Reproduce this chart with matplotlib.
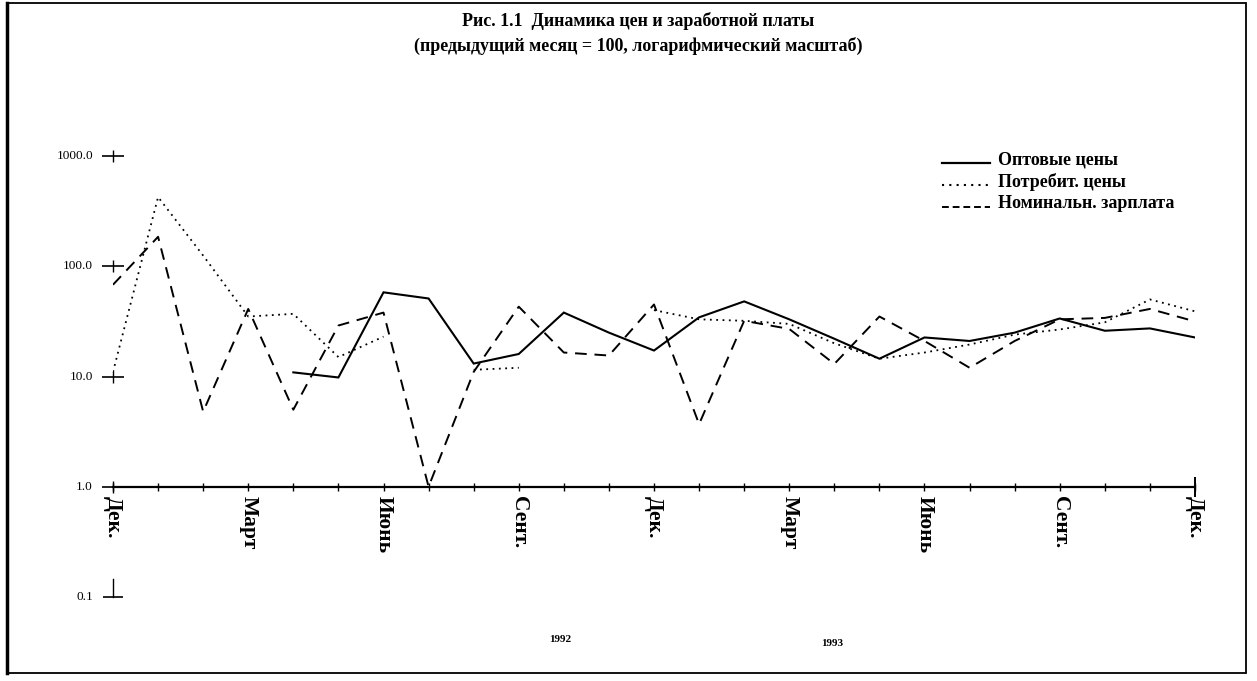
import numpy as np
import matplotlib
matplotlib.use("Agg")
import matplotlib.pyplot as plt
from matplotlib.lines import Line2D
from matplotlib.patches import Rectangle

nan = np.nan
# month index 0 = Dec 1991 ... 24 = Dec 1993
months = list(range(25))
wholesale = [nan, nan, nan, nan, 10.9, 9.8, 58, 51, 13.1, 16, 38, 25, 17.2,
             34.4, 48, 33, 22, 14.5, 22.6, 21, 25, 33.6, 26, 27.3, 22.6]
consumer = [11, 424, 125, 35, 37, 15, 23, nan, 11.5, 12, nan, nan, 40,
            33, 32, 30, 20, 14.5, 16.5, 19.5, 24, 26.7, 31, 50, 39]
wages = [68, 185, 4.8, 41, 5.0, 29, 38, 1.0, 11, 43, 16.5, 15.5, 45,
         3.7, 32, 27, 13, 35, 21, 12, 21, 33, 34, 41, 31.6]

tick_pos = [0, 3, 6, 9, 12, 15, 18, 21, 24]
tick_labels = ["Дек.", "Март", "Июнь", "Сент.", "Дек.", "Март", "Июнь", "Сент.", "Дек."]
y_ticks = [1000, 100, 10, 1, 0.1]
y_labels = ["1000.0", "100.0", "10.0", "1.0", "0.1"]
legend_labels = ["Оптовые цены", "Потребит. цены", "Номинальн. зарплата"]
title1 = "Рис. 1.1  Динамика цен и заработной платы"
title2 = "(предыдущий месяц = 100, логарифмический масштаб)"
years = ["1992", "1993"]

SERIF = ["Liberation Serif", "DejaVu Serif"]
W, H = 1257, 681
fig = plt.figure(figsize=(W / 100, H / 100), dpi=100)
fig.patch.set_facecolor("white")


def fx(px):
    return px / W


def fy(py):
    return (H - py) / H


ax = fig.add_axes([fx(113), fy(597), (1195 - 113) / W, (597 - 156) / H])
ax.set_yscale("log")
ax.set_ylim(0.1, 1000)
ax.set_xlim(0, 24)
for s in ax.spines.values():
    s.set_visible(False)
ax.set_xticks([])
ax.set_yticks([])
ax.minorticks_off()
ax.patch.set_alpha(0)

# series
ax.plot(months, wholesale, color="black", lw=1.5, ls="-", solid_joinstyle="miter")
ax.plot(months, consumer, color="black", lw=1.3, ls=(0, (1, 2.5)))
ax.plot(months, wages, color="black", lw=1.4, ls=(0, (6, 4)))

# x axis at y = 1
ax.plot([0, 24], [1, 1], color="black", lw=1.6, clip_on=False)
ax.plot(months, [1] * len(months), ls="none", marker="|", ms=6, mew=1.0,
        color="black", clip_on=False)
ax.plot([24], [1], ls="none", marker="|", ms=14, mew=1.4, color="black", clip_on=False)

# y ticks as crosses
ytr = ax.get_yaxis_transform()
for v, lab in zip(y_ticks, y_labels):
    if v >= 1:
        ax.plot([0], [v], marker="_", ms=16, mew=1.2, color="black", clip_on=False)
        ax.plot([0], [v], marker="|", ms=8, mew=1.0, color="black", clip_on=False)
    else:
        ax.plot([0], [v], marker="_", ms=14, mew=1.2, color="black", clip_on=False)
        ax.plot([0, 0], [v, v * 1.45], color="black", lw=1.0, clip_on=False)
    ax.text(-0.0185, v, lab, transform=ytr, ha="right", va="center",
            fontsize=9.5, family=SERIF)

# month labels
for p, lab in zip(tick_pos, tick_labels):
    ax.text(p, 0.82, lab, rotation=-90, ha="center", va="top",
            fontsize=15.5, fontweight="bold", family=SERIF)

# years
fig.text(fx(560), fy(640), years[0], ha="center", va="center", fontsize=8,
         fontweight="bold", family=SERIF)
fig.text(fx(832), fy(644), years[1], ha="center", va="center", fontsize=8,
         fontweight="bold", family=SERIF)

# title
fig.text(fx(638), fy(21), title1, ha="center", va="center", fontsize=13,
         fontweight="bold", family=SERIF)
fig.text(fx(638), fy(46), title2, ha="center", va="center", fontsize=13,
         fontweight="bold", family=SERIF)

# legend (manual)
leg_y = [160, 182, 204]
styles = [dict(ls="-", lw=1.6), dict(ls=(0, (1, 2.5)), lw=1.5), dict(ls=(0, (3.5, 2)), lw=1.4)]
for yy, st, lab in zip(leg_y, styles, legend_labels):
    fig.add_artist(Line2D([fx(942), fx(990)], [fy(yy + 3), fy(yy + 3)],
                          transform=fig.transFigure, color="black", **st))
    fig.text(fx(998), fy(yy), lab, ha="left", va="center", fontsize=13,
             fontweight="bold", family=SERIF)

# frame
fig.add_artist(Rectangle((fx(7), fy(673)), (1246 - 7) / W, (673 - 3) / H,
                         transform=fig.transFigure, fill=False, lw=1.3, color="black"))
fig.add_artist(Line2D([fx(7), fx(7)], [fy(3), fy(673)], transform=fig.transFigure,
                      color="black", lw=2.5))

fig.savefig("out.png", dpi=100, facecolor="white")
